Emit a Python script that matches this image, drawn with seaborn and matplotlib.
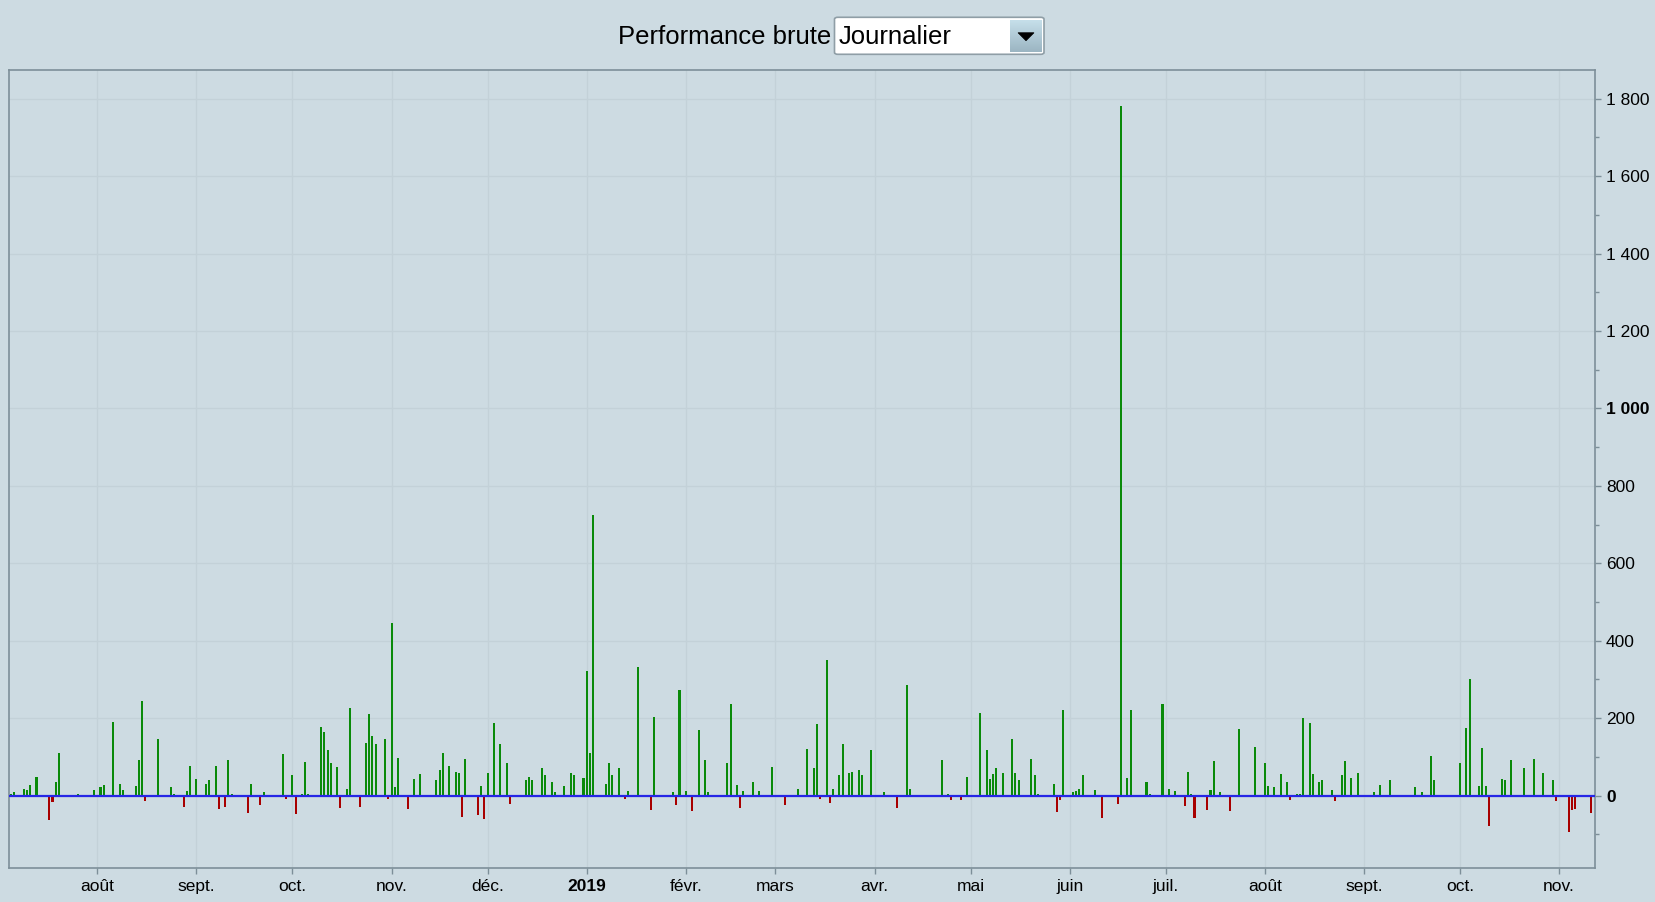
import numpy as np
import pandas as pd
import matplotlib
matplotlib.use("Agg")
import matplotlib.pyplot as plt
import matplotlib.dates as mdates
from matplotlib.patches import FancyBboxPatch, Polygon
from matplotlib.colors import LinearSegmentedColormap
import seaborn as sns

# ---------------- data ----------------
dates = [
    "2018-07-05", "2018-07-06", "2018-07-09", "2018-07-10", "2018-07-11", "2018-07-12", "2018-07-13",
    "2018-07-17", "2018-07-18", "2018-07-19", "2018-07-20", "2018-07-26", "2018-07-31",
    "2018-08-02", "2018-08-03", "2018-08-06", "2018-08-08", "2018-08-09", "2018-08-13", "2018-08-14",
    "2018-08-15", "2018-08-16", "2018-08-20", "2018-08-24", "2018-08-25", "2018-08-28", "2018-08-29",
    "2018-08-30", "2018-09-01", "2018-09-04", "2018-09-05", "2018-09-07", "2018-09-08", "2018-09-10",
    "2018-09-11", "2018-09-12", "2018-09-17", "2018-09-18", "2018-09-21", "2018-09-22", "2018-09-28",
    "2018-09-29", "2018-10-01", "2018-10-02", "2018-10-04", "2018-10-05", "2018-10-06", "2018-10-10",
    "2018-10-11", "2018-10-12", "2018-10-13", "2018-10-15", "2018-10-16", "2018-10-18", "2018-10-19",
    "2018-10-22", "2018-10-24", "2018-10-25", "2018-10-26", "2018-10-27", "2018-10-30", "2018-10-31",
    "2018-11-01", "2018-11-02", "2018-11-03", "2018-11-06", "2018-11-08", "2018-11-10", "2018-11-15",
    "2018-11-16", "2018-11-17", "2018-11-19", "2018-11-21", "2018-11-22", "2018-11-23", "2018-11-24",
    "2018-11-28", "2018-11-29", "2018-11-30", "2018-12-01", "2018-12-03", "2018-12-05", "2018-12-07",
    "2018-12-08", "2018-12-13", "2018-12-14", "2018-12-15", "2018-12-18", "2018-12-19", "2018-12-21",
    "2018-12-22", "2018-12-25", "2018-12-27", "2018-12-28", "2018-12-31",
    "2019-01-01", "2019-01-02", "2019-01-03", "2019-01-07", "2019-01-08", "2019-01-09", "2019-01-11",
    "2019-01-13", "2019-01-14", "2019-01-17", "2019-01-21", "2019-01-22", "2019-01-28", "2019-01-29",
    "2019-01-30", "2019-02-01", "2019-02-03", "2019-02-05", "2019-02-07", "2019-02-08", "2019-02-14",
    "2019-02-15", "2019-02-17", "2019-02-18", "2019-02-19", "2019-02-22", "2019-02-24", "2019-02-28",
    "2019-03-04", "2019-03-08", "2019-03-11", "2019-03-13", "2019-03-14", "2019-03-15", "2019-03-17",
    "2019-03-18", "2019-03-19", "2019-03-21", "2019-03-22", "2019-03-24", "2019-03-25", "2019-03-27",
    "2019-03-28", "2019-03-31", "2019-04-04", "2019-04-08", "2019-04-11", "2019-04-12", "2019-04-22",
    "2019-04-24", "2019-04-25", "2019-04-28", "2019-04-30", "2019-05-04", "2019-05-06", "2019-05-07",
    "2019-05-08", "2019-05-09", "2019-05-11", "2019-05-14", "2019-05-15", "2019-05-16", "2019-05-20",
    "2019-05-21", "2019-05-22", "2019-05-27", "2019-05-28", "2019-05-29", "2019-05-30", "2019-06-02",
    "2019-06-03", "2019-06-04", "2019-06-05", "2019-06-09", "2019-06-11", "2019-06-13", "2019-06-16",
    "2019-06-17", "2019-06-19", "2019-06-20", "2019-06-25", "2019-06-26", "2019-06-30", "2019-07-02",
    "2019-07-04", "2019-07-07", "2019-07-08", "2019-07-09", "2019-07-10", "2019-07-14", "2019-07-15",
    "2019-07-16", "2019-07-18", "2019-07-21", "2019-07-24", "2019-07-29", "2019-08-01", "2019-08-02",
    "2019-08-04", "2019-08-06", "2019-08-08", "2019-08-09", "2019-08-11", "2019-08-12", "2019-08-13",
    "2019-08-15", "2019-08-16", "2019-08-18", "2019-08-19", "2019-08-22", "2019-08-23", "2019-08-25",
    "2019-08-26", "2019-08-28", "2019-08-30", "2019-09-04", "2019-09-06", "2019-09-09", "2019-09-17",
    "2019-09-19", "2019-09-22", "2019-09-23", "2019-10-01", "2019-10-03", "2019-10-04", "2019-10-07",
    "2019-10-08", "2019-10-09", "2019-10-10", "2019-10-14", "2019-10-15", "2019-10-17", "2019-10-21",
    "2019-10-22", "2019-10-24", "2019-10-27", "2019-10-30", "2019-10-31", "2019-11-04", "2019-11-05",
    "2019-11-06", "2019-11-11",
]

values = [
    3, 8, 18, 15, 28, -4, 49,
    -64, -17, 34, 111, 3, 15,
    23, 28, 191, 31, 15, 26, 93,
    245, -15, 145, 21, 3, -30, 13,
    77, 44, 31, 39, 77, -35, -30,
    93, 3, -46, 31, -25, 8, 108,
    -9, 54, -48, 3, 88, 5, 178,
    163, 119, 83, 75, -33, 18, 225,
    -30, 137, 212, 155, 134, 147, -9,
    446, 23, 98, -35, 44, 57, 39,
    65, 111, 77, 62, 59, -56, 95,
    -51, 26, -61, 59, 188, 132, 85,
    -22, 41, 49, 41, 72, 54, 36,
    8, 26, 59, 54, 46,
    323, 111, 725, 31, 83, 52, 70,
    -10, 13, 333, -36, 204, 10, -23,
    273, 13, -41, 170, 93, 10, 85,
    237, 28, -31, 13, 36, 13, 75,
    -23, 18, 121, 70, 186, -10, 351,
    -20, 18, 52, 134, 59, 62, 65,
    54, 119, 8, -33, 286, 18, 93,
    3, -12, -12, 49, 214, 119, 44,
    57, 70, 59, 147, 59, 41, 95,
    54, 3, 31, -43, -12, 222, 10,
    13, 18, 54, 15, -58, -4, -22,
    1780, 46, 222, 36, 3, 237, 18,
    13, -28, 62, 5, -58, -38, 15,
    90, 8, -40, 173, 126, 85, 26,
    23, 57, 34, -12, 3, 3, 201,
    188, 57, 36, 39, 15, -15, 52,
    90, 46, 59, 8, 28, 41, 23,
    8, 101, 39, 83, 175, 302, 26,
    124, 26, -79, 44, 39, 93, 72,
    -4, 95, 59, 41, -15, -95, -38,
    -35, -46,
]

month_starts = ["2018-08-01", "2018-09-01", "2018-10-01", "2018-11-01", "2018-12-01",
                "2019-01-01", "2019-02-01", "2019-03-01", "2019-04-01", "2019-05-01",
                "2019-06-01", "2019-07-01", "2019-08-01", "2019-09-01", "2019-10-01",
                "2019-11-01"]
month_labels = ["août", "sept.", "oct.", "nov.", "déc.", "2019", "févr.", "mars",
                "avr.", "mai", "juin", "juil.", "août", "sept.", "oct.", "nov."]
y_ticks = [0, 200, 400, 600, 800, 1000, 1200, 1400, 1600, 1800]
y_minor = [-100, 100, 300, 500, 700, 900, 1100, 1300, 1500, 1700]

title_text = "Performance brute"
select_text = "Journalier"

# ---------------- style ----------------
BG = "#cddbe2"
GRID = "#c3d1d8"
SPINE = "#7d8f99"
GREEN = "#0a8a0a"
RED = "#a80000"
ZERO = "#2626e6"

plt.rcParams["font.family"] = ["Liberation Sans", "DejaVu Sans"]

W, H = 1655, 902
fig = plt.figure(figsize=(W / 100, H / 100), dpi=100, facecolor=BG)
ax = fig.add_axes([9 / W, (H - 868) / H, (1595 - 9) / W, (868 - 70) / H])
ax.set_facecolor(BG)

df = pd.DataFrame({"date": pd.to_datetime(dates), "value": values})
df["x"] = mdates.date2num(df["date"])
df["sens"] = np.where(df["value"] >= 0, "gain", "perte")

sns.barplot(data=df, x="x", y="value", hue="sens",
            palette={"gain": GREEN, "perte": RED},
            native_scale=True, dodge=False, width=0.64, saturation=1,
            linewidth=0, errorbar=None, legend=False, ax=ax, zorder=2)

ref = mdates.date2num(pd.Timestamp("2018-08-01"))
ax.set_xlim(ref - 27.6, ref + 468.2)
ax.set_ylim(-187, 1874)

ax.axhline(0, color=ZERO, lw=1.6, zorder=3)

# x axis
ax.set_xticks(mdates.date2num(pd.to_datetime(month_starts)))
ax.set_xticklabels(month_labels)
for lab in ax.get_xticklabels():
    if lab.get_text() == "2019":
        lab.set_fontweight("bold")
        lab.set_fontsize(14)
ax.tick_params(axis="x", which="major", bottom=True, length=4, width=1,
               color=SPINE, pad=4, labelsize=12.5, labelcolor="black")

# y axis on the right
ax.yaxis.tick_right()
ax.set_yticks(y_ticks)
ax.set_yticklabels([f"{v:,}".replace(",", " ") for v in y_ticks])
ax.set_yticks(y_minor, minor=True)
for lab, v in zip(ax.get_yticklabels(), y_ticks):
    if v in (0, 1000):
        lab.set_fontweight("bold")
        lab.set_fontsize(14)
ax.tick_params(axis="y", which="major", right=True, left=False, length=4, width=1,
               color=SPINE, pad=4, labelsize=12.5, labelcolor="black")
ax.tick_params(axis="y", which="minor", right=True, left=False, length=3, width=1,
               color=SPINE)
ax.set_xlabel("")
ax.set_ylabel("")

ax.grid(True, which="major", axis="both", color=GRID, lw=1)
ax.set_axisbelow(True)
for s in ax.spines.values():
    s.set_color(SPINE)
    s.set_linewidth(1.2)

# ---------------- header with dropdown ----------------
def fx(px):
    return px / W

def fy(py):
    return 1 - py / H

fig.text(fx(831), fy(37.5), title_text, ha="right", va="center", fontsize=18.5, color="black")

box = FancyBboxPatch((fx(834.5), fy(54.3)), fx(1044) - fx(834.5), fy(17.3) - fy(54.3),
                     boxstyle="round,pad=0,rounding_size=0.002",
                     transform=fig.transFigure, fc="white", ec="#8f9ea6", lw=1.2, zorder=1)
fig.patches.append(box)
fig.text(fx(838.5), fy(37.5), select_text, ha="left", va="center", fontsize=18.5, color="black")

btn = fig.add_axes([fx(1010), fy(52), fx(1042) - fx(1010), fy(20) - fy(52)])
btn.set_zorder(5)
grad = np.linspace(0, 1, 64).reshape(-1, 1)
cmap = LinearSegmentedColormap.from_list("btn", ["#c6dfea", "#9bb5c2"])
btn.imshow(grad, aspect="auto", cmap=cmap, interpolation="bilinear",
           extent=(-0.5, 0.5, 63.5, -0.5))
btn.set_axis_off()

tri_x = [-0.25, 0.25, 0.0]
tri_y = [12.5 / 32 * 64, 12.5 / 32 * 64, 20.5 / 32 * 64]
btn.add_patch(Polygon(list(zip(tri_x, tri_y)), closed=True,
                      fc="black", ec="black", lw=0.5))
btn.set_xlim(-0.5, 0.5)
btn.set_ylim(63.5, -0.5)

fig.savefig("out.png", dpi=100, facecolor=BG)
